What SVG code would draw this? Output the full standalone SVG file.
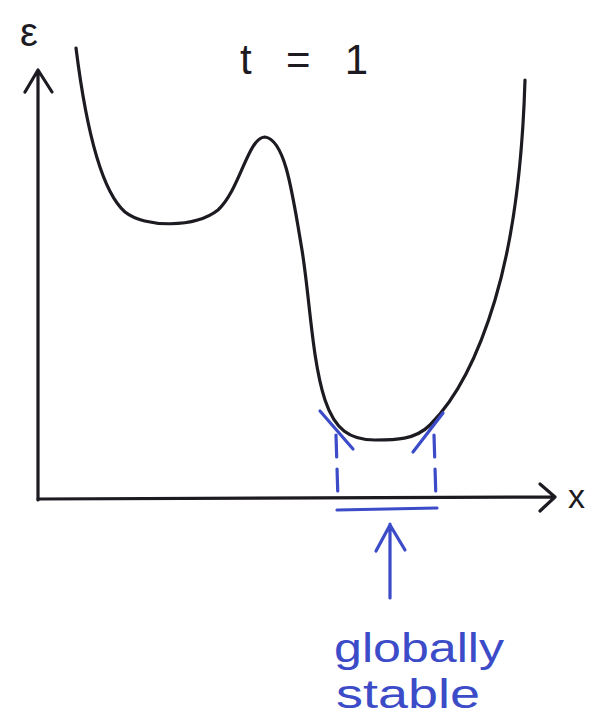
<svg xmlns="http://www.w3.org/2000/svg" width="593" height="720" viewBox="0 0 593 720">
<style>
.ink{fill:none;stroke:#1e1a22;stroke-width:3.2;stroke-linecap:round;stroke-linejoin:round}
.blue{fill:none;stroke:#3c4bc8;stroke-width:3.2;stroke-linecap:round;stroke-linejoin:round}
.t{font-family:"Liberation Sans",Arial,sans-serif;fill:#1e1a22}
.bt{font-family:"Liberation Sans",Arial,sans-serif;fill:#3c4bc8}
</style>
<rect width="593" height="720" fill="#fff"/>
<g id="axes">
<path class="ink" d="M38,500 L38,72 M25,92 L38,70 L52,92"/>
<path class="ink" d="M38,499 L555,497 M540,484 L555,497 L540,511"/>
<text class="t" x="20" y="46" font-size="40">ε</text>
<text class="t" x="568" y="508" font-size="34">x</text>
<text class="t" x="240" y="74" font-size="42" textLength="128" lengthAdjust="spacing">t = 1</text>
</g>
<g id="curve">
<path class="ink" d="M76,48 C85,120 100,190 125,212 C145,228 195,228 218,210 C240,190 248,137 265,137 C285,140 292,190 302,250 C310,300 312,360 325,400 C335,430 350,440 375,440 C395,440 415,440 430,425 C460,395 480,350 495,300 C510,250 522,180 525,80"/>
</g>
<g id="stable-region">
<path class="blue" d="M320,411 L353,449 M443,413 L413,452"/>
<path class="blue" d="M336,435 L338,500 M434,435 L436,500" stroke-dasharray="22,12"/>
<path class="blue" d="M337,510 L437,508"/>
</g>
<g id="connectors">
<path class="blue" d="M390,598 L390,524 M376,551 L390,525 L405,550"/>
</g>
<g id="label">
<text class="bt" x="334" y="662" font-size="40" textLength="170" lengthAdjust="spacingAndGlyphs">globally</text>
<text class="bt" x="336" y="708" font-size="40" textLength="144" lengthAdjust="spacingAndGlyphs">stable</text>
</g>
</svg>
